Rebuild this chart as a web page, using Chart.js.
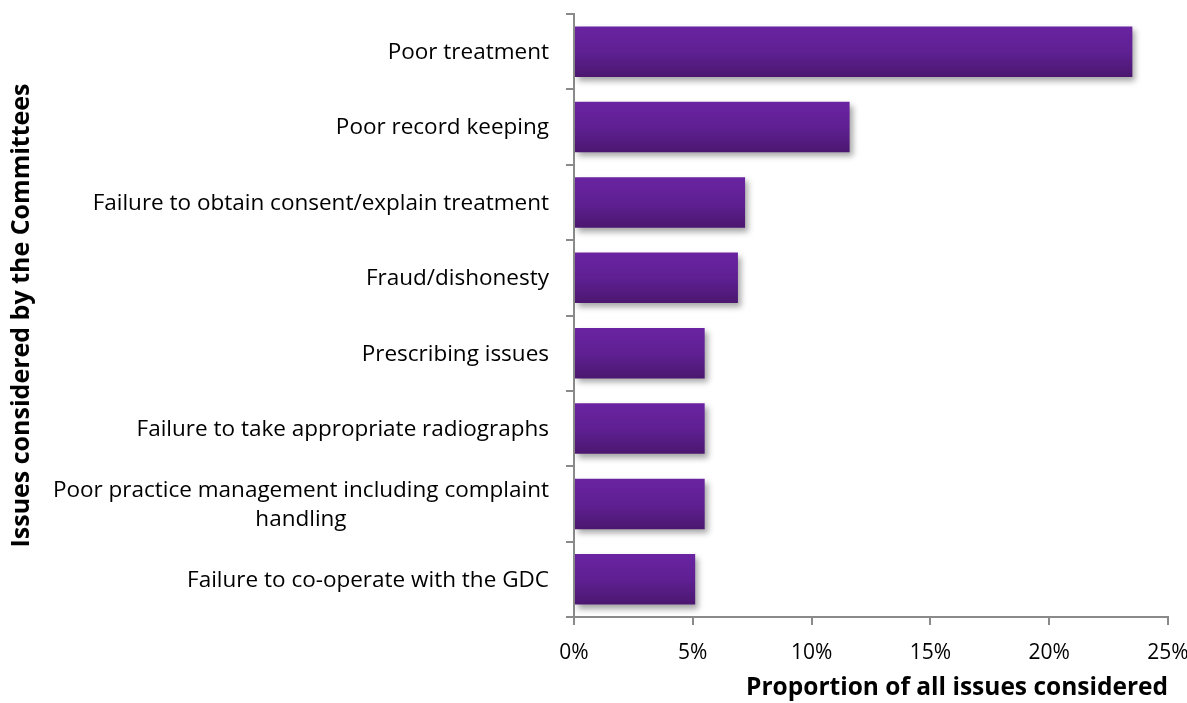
<!DOCTYPE html>
<html>
<head>
<meta charset="utf-8">
<script src="https://cdn.jsdelivr.net/npm/chart.js@4.4.1/dist/chart.umd.min.js"></script>
<style>
  html, body { margin: 0; padding: 0; background: #fff; }
  #wrap { width: 1187px; height: 703px; position: relative; }
</style>
</head>
<body>
<div id="wrap"><canvas id="c"></canvas></div>
<script>
// Issues and their share of all issues considered (percent)
const issues = [
  'Poor treatment',
  'Poor record keeping',
  'Failure to obtain consent/explain treatment',
  'Fraud/dishonesty',
  'Prescribing issues',
  'Failure to take appropriate radiographs',
  ['Poor practice management including complaint', 'handling'],
  'Failure to co-operate with the GDC'
];
const shares = [23.5, 11.6, 7.2, 6.9, 5.5, 5.5, 5.5, 5.1];
const xTicks = [0, 5, 10, 15, 20, 25];

const FONT = '"Open Sans", Lato, sans-serif';
const AXIS = '#8a8a8a';
const BAR_PCT = 0.67;

// vertical purple gradient for each bar, built from the category scale
function barFill(ctx) {
  const chart = ctx.chart;
  const ys = chart.scales.y;
  if (!ys || !chart.chartArea) return '#5e1f92';
  const mid = ys.getPixelForValue(ctx.dataIndex);
  const half = ys.height / issues.length * BAR_PCT / 2;
  const g = chart.ctx.createLinearGradient(0, mid - half, 0, mid + half);
  g.addColorStop(0, '#6a23a1');
  g.addColorStop(0.5, '#5f2093');
  g.addColorStop(1, '#4b176f');
  return g;
}

// soft drop shadow behind the bars
const barShadow = {
  id: 'barShadow',
  beforeDatasetDraw(chart) {
    const c = chart.ctx;
    c.save();
    c.shadowColor = 'rgba(0,0,0,0.35)';
    c.shadowBlur = 6;
    c.shadowOffsetX = 3;
    c.shadowOffsetY = 4;
  },
  afterDatasetDraw(chart) {
    chart.ctx.restore();
  }
};

// category labels: single lines right aligned, wrapped label centred as a block
const catLabels = {
  id: 'catLabels',
  afterDraw(chart) {
    const c = chart.ctx;
    const ys = chart.scales.y;
    const right = chart.chartArea.left - 25;
    const lh = 29;
    c.save();
    c.font = '22.5px ' + FONT;
    c.fillStyle = '#000';
    c.textBaseline = 'middle';
    issues.forEach((lab, i) => {
      const y = ys.getPixelForValue(i) + 1;
      const lines = Array.isArray(lab) ? lab : [lab];
      const w = Math.max(...lines.map(l => c.measureText(l).width));
      const cx = right - w / 2;
      lines.forEach((l, k) => {
        const ly = y + (k - (lines.length - 1) / 2) * lh;
        if (lines.length > 1) {
          c.textAlign = 'center';
          c.fillText(l, cx, ly);
        } else {
          c.textAlign = 'right';
          c.fillText(l, right, ly);
        }
      });
    });
    c.restore();
  }
};

new Chart(document.getElementById('c'), {
  type: 'bar',
  data: {
    labels: issues,
    datasets: [{
      data: shares,
      backgroundColor: barFill,
      borderWidth: 0,
      categoryPercentage: 1,
      barPercentage: BAR_PCT
    }]
  },
  plugins: [barShadow, catLabels],
  options: {
    indexAxis: 'y',
    responsive: true,
    maintainAspectRatio: false,
    animation: false,
    layout: { padding: { top: 14, right: 19, bottom: 0, left: 0 } },
    plugins: { legend: { display: false }, tooltip: { enabled: false } },
    scales: {
      x: {
        min: 0,
        max: 25,
        afterBuildTicks(s) { s.ticks = xTicks.map(v => ({ value: v })); },
        afterFit(s) { s.height = 86; s.paddingLeft = 0; s.paddingRight = 0; },
        border: { color: AXIS, width: 2 },
        grid: { drawOnChartArea: false, tickLength: 8, color: AXIS, lineWidth: 2 },
        ticks: {
          color: '#000',
          padding: 15,
          maxRotation: 0,
          font: { family: FONT, size: 21 },
          callback: v => v + '%'
        },
        title: {
          display: true,
          text: 'Proportion of all issues considered',
          align: 'end',
          color: '#000',
          padding: { top: 0, bottom: 0 },
          font: { family: FONT, size: 24.5, weight: 'bold' }
        }
      },
      y: {
        afterFit(s) { s.width = 574; s.paddingTop = 0; s.paddingBottom = 0; },
        border: { color: AXIS, width: 2 },
        grid: { drawOnChartArea: false, tickLength: 8, color: AXIS, lineWidth: 2, offset: true },
        ticks: { color: 'rgba(0,0,0,0)', font: { family: FONT, size: 22 } },
        title: {
          display: true,
          text: 'Issues considered by the Committees',
          color: '#000',
          padding: { top: 7, bottom: 0 },
          font: { family: FONT, size: 25, weight: 'bold' }
        }
      }
    }
  }
});
</script>
</body>
</html>
